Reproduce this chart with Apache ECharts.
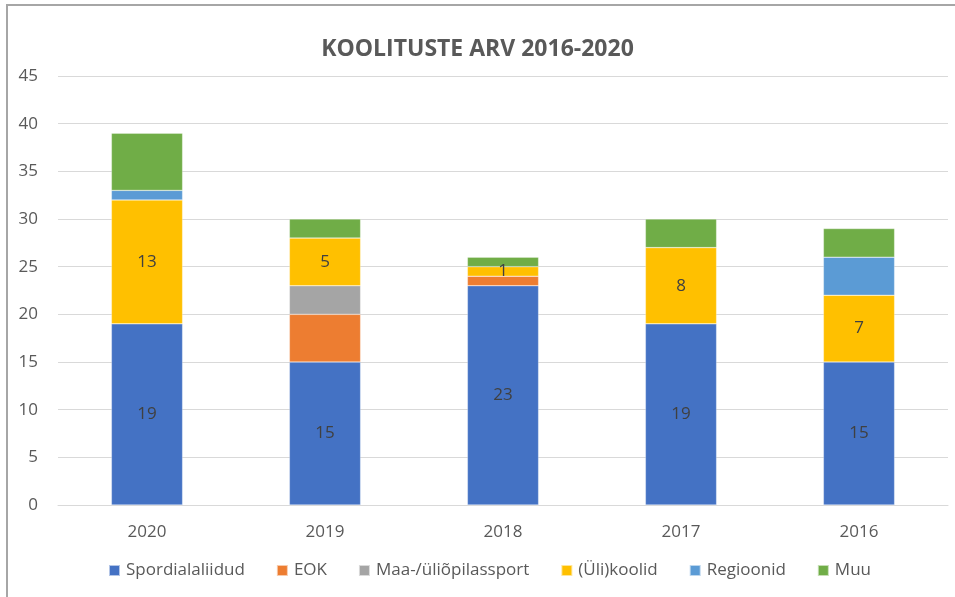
<!DOCTYPE html>
<html>
<head>
<meta charset="utf-8">
<script src="https://cdn.jsdelivr.net/npm/echarts@6/dist/echarts.min.js"></script>
<style>
  html, body { margin: 0; padding: 0; background: #fff; }
  #frame { position: absolute; left: 6px; top: 4px; width: 960px; height: 600px;
           border-top: 2px solid #a6a6a6; border-left: 2px solid #a6a6a6; }
  #main { position: absolute; left: 0; top: 0; width: 955px; height: 597px; }
</style>
</head>
<body>
<div id="frame"></div>
<div id="main"></div>
<script>
// andmed
var years = ['2020', '2019', '2018', '2017', '2016'];
var spordialaliidud = [19, 15, 23, 19, 15];
var eok = [0, 5, 1, 0, 0];
var maaYliopilassport = [0, 3, 0, 0, 0];
var yliKoolid = [13, 5, 1, 8, 7];
var regioonid = [1, 0, 0, 0, 4];
var muu = [6, 2, 1, 3, 3];

var font = '"Open Sans", "Noto Sans", sans-serif';

function bar(name, data, color, showLabel) {
  return {
    name: name,
    type: 'bar',
    stack: 'kokku',
    barWidth: '40%',
    data: data.map(function (v) { return v === 0 ? null : v; }),
    itemStyle: { color: color, borderColor: 'rgba(255,255,255,0.6)', borderWidth: 0.5 },
    label: {
      show: showLabel,
      position: 'inside',
      color: '#404040',
      fontFamily: font,
      fontSize: 17
    }
  };
}

var myChart = echarts.init(document.getElementById('main'));
myChart.setOption({
  animation: false,
  title: {
    text: 'KOOLITUSTE ARV 2016-2020',
    left: 'center',
    top: 33,
    textStyle: { color: '#595959', fontFamily: font, fontSize: 23, fontWeight: 'bold' }
  },
  legend: {
    bottom: 13,
    left: 103,
    itemWidth: 11,
    itemHeight: 11,
    itemGap: 31,
    icon: 'rect',
    textStyle: { color: '#595959', fontFamily: font, fontSize: 17, padding: [0, 0, 0, 1] }
  },
  grid: { left: 58, right: 7, top: 76, bottom: 92, containLabel: false },
  xAxis: {
    type: 'category',
    data: years,
    axisLine: { lineStyle: { color: '#d9d9d9' } },
    axisTick: { show: false },
    axisLabel: { color: '#595959', fontFamily: font, fontSize: 17, margin: 19 }
  },
  yAxis: {
    type: 'value',
    min: 0,
    max: 45,
    interval: 5,
    axisLine: { show: false },
    axisTick: { show: false },
    splitLine: { lineStyle: { color: '#d9d9d9' } },
    axisLabel: { color: '#595959', fontFamily: font, fontSize: 17, margin: 20 }
  },
  series: [
    bar('Spordialaliidud', spordialaliidud, '#4472c4', true),
    bar('EOK', eok, '#ed7d31', false),
    bar('Maa-/üliõpilassport', maaYliopilassport, '#a5a5a5', false),
    bar('(Üli)koolid', yliKoolid, '#ffc000', true),
    bar('Regioonid', regioonid, '#5b9bd5', false),
    bar('Muu', muu, '#70ad47', false)
  ]
});
</script>
</body>
</html>
